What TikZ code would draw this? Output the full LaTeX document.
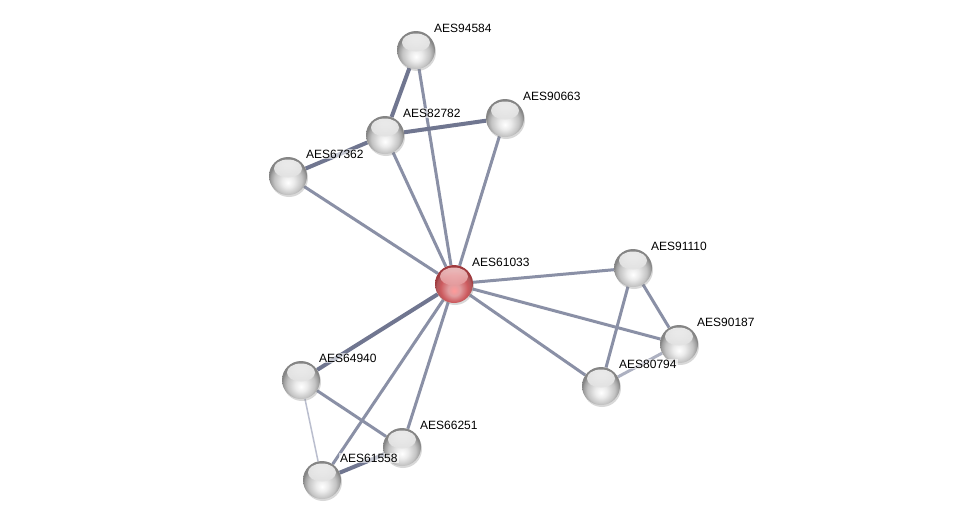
\documentclass[tikz,border=0pt]{standalone}
\usepackage{fontspec}
\setmainfont{Liberation Sans}
\usetikzlibrary{shadows}
\pgfdeclarelayer{bg}
\pgfdeclarelayer{edges}
\pgfsetlayers{bg,edges,main}
\definecolor{edgecol}{RGB}{138,144,166}
\definecolor{edgedark}{RGB}{112,118,144}
\definecolor{edgelight}{RGB}{186,190,206}
\definecolor{ballmid}{RGB}{196,196,196}
\definecolor{redmid}{RGB}{204,90,94}
\definecolor{redrim}{RGB}{160,58,62}
\pgfdeclareradialshading{greyball}{\pgfpoint{0bp}{-9bp}}{color(0bp)=(white); color(8bp)=(white!92!black); color(18bp)=(ballmid); color(23bp)=(black!38); color(25bp)=(black!48); color(50bp)=(black!48)}
\pgfdeclareradialshading{redball}{\pgfpoint{0bp}{-9bp}}{color(0bp)=(red!40!white); color(8bp)=(redmid!60!white); color(18bp)=(redmid); color(23bp)=(redrim!85!white); color(25bp)=(redrim); color(50bp)=(redrim)}
\tikzset{
  prot/.style={circle,minimum size=38pt,inner sep=0pt,shading=greyball,
    drop shadow={opacity=0.3,shadow xshift=1pt,shadow yshift=-2pt},
    path picture={\shade[top color=white,bottom color=ballmid,opacity=0.85] ([yshift=7.5pt]path picture bounding box.center) ellipse (14pt and 9pt);}},
  query/.style={circle,minimum size=38pt,inner sep=0pt,shading=redball,
    drop shadow={opacity=0.3,shadow xshift=1pt,shadow yshift=-2pt},
    path picture={\shade[top color=red!12!white,bottom color=redmid,opacity=0.8] ([yshift=7.5pt]path picture bounding box.center) ellipse (14pt and 9pt);}},
  plbl/.style={anchor=west,inner sep=1pt,fill=white,fill opacity=0.6,text opacity=1,font=\fontsize{12}{14}\selectfont},
  ppi/.style={line width=3pt,edgecol},
  ppistrong/.style={line width=4pt,edgedark},
  ppiweak/.style={line width=1.5pt,edgelight}
}
\begin{document}
\begin{tikzpicture}[x=1pt,y=-1pt]
\useasboundingbox (0,0) rectangle (976,525);
\begin{pgfonlayer}{bg}
\fill[white] (0,0) rectangle (976,525);
\end{pgfonlayer}
% proteins
\node[query] (a61033) at (454,284) {};
\foreach \n/\x/\y in {94584/416/50,82782/385/135,90663/505/118,67362/288/176,
  91110/633/268,90187/679/344,80794/601/386,64940/301/380,66251/402/447,61558/322/480} {
  \node[prot] (a\n) at (\x,\y) {};
}
% labels
\foreach \n/\x/\y in {94584/416/50,82782/385/135,90663/505/118,67362/288/176,61033/454/284,
  91110/633/268,90187/679/344,80794/601/386,64940/301/380,66251/402/447,61558/322/480} {
  \node[plbl] (l\n) at (\x+17,\y-22) {AES\n};
}
% interactions
\begin{pgfonlayer}{edges}
\foreach \a/\b in {94584/61033,82782/61033,90663/61033,67362/61033,61033/91110,61033/90187,
  61033/80794,61033/61558,61033/66251,91110/90187,91110/80794,64940/66251}
  \draw[ppi] (a\a) -- (a\b);
\foreach \a/\b in {94584/82782,82782/90663,67362/82782,61033/64940,66251/61558}
  \draw[ppistrong] (a\a) -- (a\b);
\draw[ppiweak] (a64940) -- (a61558);
\draw[ppi,edgecol!70!white] (a90187) -- (a80794);
\end{pgfonlayer}
\end{tikzpicture}
\end{document}
